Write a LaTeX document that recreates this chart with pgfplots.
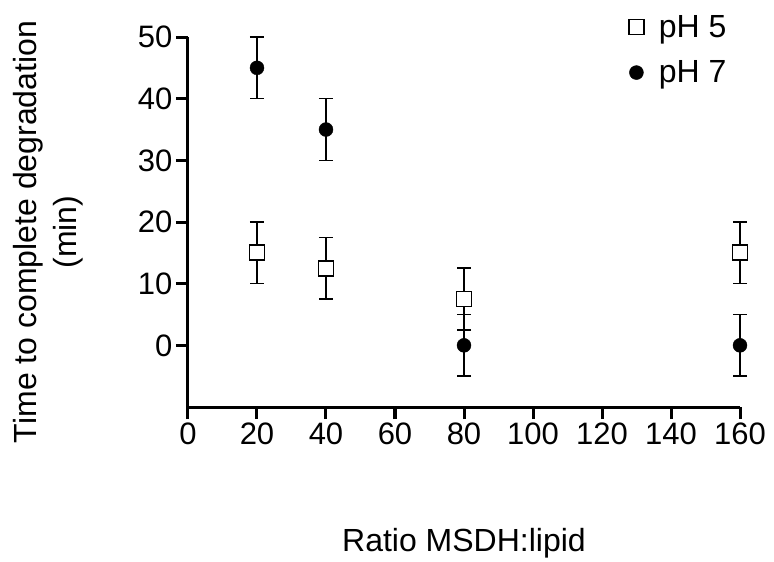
\documentclass[border=0pt]{standalone}
\usepackage{fontspec}
\setmainfont{Liberation Sans}
\usepackage{pgfplots}
\pgfplotsset{compat=1.18}
\usetikzlibrary{calc}

\begin{document}
\begin{tikzpicture}
\begin{axis}[
  scale only axis, width=552pt, height=370pt,
  xmin=0, xmax=160, ymin=-10, ymax=50,
  axis x line=bottom, axis y line=left,
  axis line style={-, line width=3pt},
  xtick={0,20,...,160}, ytick={0,10,...,50},
  tick align=outside, major tick length=12pt,
  tick style={line width=3pt, black},
  /pgf/number format/assume math mode=true,
  tick label style={font=\fontsize{31}{36}\selectfont},
  label style={font=\fontsize{32}{40}\selectfont},
  xlabel={Ratio MSDH:lipid},
  xlabel style={at={(axis description cs:0.5,-0.368)}, anchor=center},
  ylabel={Time to complete degradation\\(min)},
  ylabel style={at={(axis description cs:-0.254,0.473)}, anchor=center, align=center},
  clip=false,
  legend style={draw=none, fill=none, at={(rel axis cs:0.985,1.07)}, anchor=north east,
    font=\fontsize{32}{36}\selectfont, row sep=18pt},
  legend cell align=left,
]
\addplot[only marks, mark=square*, mark size=7.5pt,
  mark options={fill=white, draw=black, line width=1.8pt},
  error bars/.cd, y dir=both, y explicit,
  error bar style={line width=1.6pt, black},
  error mark options={rotate=90, mark size=7pt, line width=1.6pt, black}]
  coordinates {(20,15) +- (0,5) (40,12.5) +- (0,5) (80,7.5) +- (0,5) (160,15) +- (0,5)};
\addlegendentry{\hspace{13pt}pH 5}
\addplot[only marks, mark=*, mark size=7pt,
  mark options={fill=black, draw=black},
  error bars/.cd, y dir=both, y explicit,
  error bar style={line width=1.6pt, black},
  error mark options={rotate=90, mark size=7pt, line width=1.6pt, black}]
  coordinates {(20,45) +- (0,5) (40,35) +- (0,5) (80,0) +- (0,5) (160,0) +- (0,5)};
\addlegendentry{\hspace{13pt}pH 7}
\end{axis}
\path ($(current axis.south west)+(-188pt,-153pt)$) rectangle ($(current axis.south west)+(586pt,407pt)$);
\end{tikzpicture}
\end{document}
